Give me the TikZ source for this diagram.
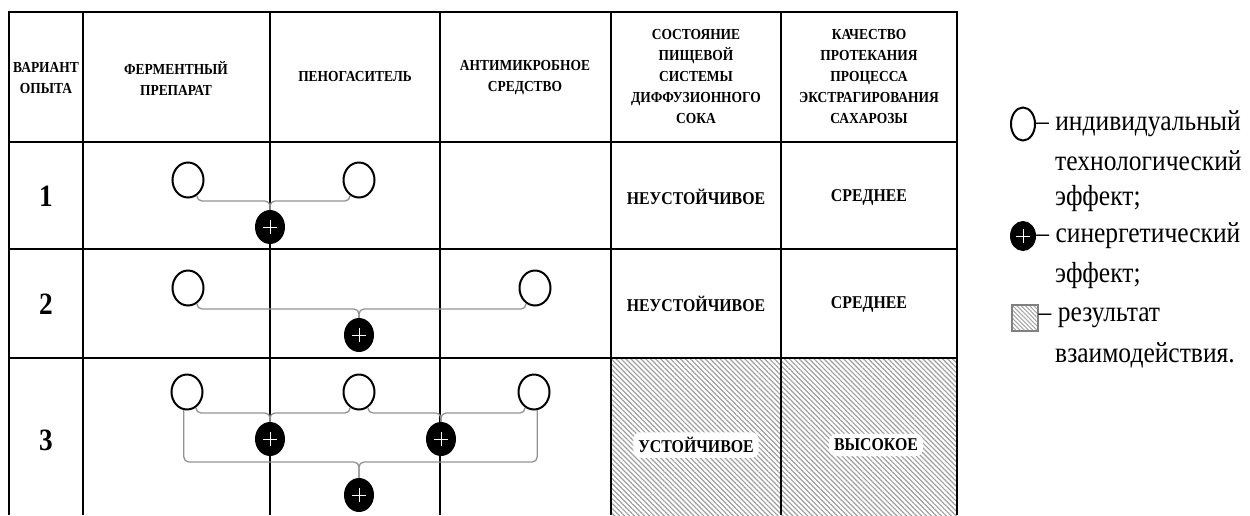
\documentclass[tikz,border=0pt]{standalone}
\usepackage{fontspec}
\setmainfont{Liberation Serif}[FakeStretch=0.88]
\usetikzlibrary{shapes.geometric,patterns.meta}
\begin{document}
\begin{tikzpicture}[x=1pt,y=-1pt,
  grid/.style={line width=1.8pt},
  hdr/.style={font=\fontsize{15.3}{21}\selectfont\bfseries, align=center, inner sep=0},
  cell/.style={font=\fontsize{18}{21}\selectfont\bfseries, inner sep=0},
  num/.style={font=\fontsize{31}{33}\selectfont\bfseries, inner sep=0},
  ind/.style={ellipse, draw, line width=2pt, minimum width=31pt, minimum height=35pt, inner sep=0},
  syn/.style={ellipse, fill=black, minimum width=30pt, minimum height=34pt, inner sep=0,
    path picture={\draw[white,line width=0.9pt]
      ([xshift=-7pt]path picture bounding box.center) -- ([xshift=7pt]path picture bounding box.center)
      ([yshift=-7pt]path picture bounding box.center) -- ([yshift=7pt]path picture bounding box.center);}},
  br/.style={draw=gray!85, line width=1.3pt, rounded corners=5pt},
  leg/.style={font=\fontsize{29}{33}\selectfont, anchor=west, inner sep=0},
  halo/.style={fill=white, rounded corners=7pt, inner sep=5pt},
]
\useasboundingbox (0,0) rectangle (1250,515);

% hatched result cells
\fill[pattern={Lines[angle=-45,distance=3.5pt,line width=1.2pt]}, pattern color=gray!75] (611,358) rectangle (957,515);

% table grid
\draw[grid] (9,515) -- (9,12) -- (957,12) -- (957,515);
\foreach \x in {83,270,440,611,781} \draw[grid] (\x,12) -- (\x,515);
\foreach \y in {142,249,358} \draw[grid] (9,\y) -- (957,\y);

% header
\node[hdr] (h1) at (46,78) {ВАРИАНТ\\ОПЫТА};
\node[hdr] (h2) at (176,78) {ФЕРМЕНТНЫЙ\\ПРЕПАРАТ};
\node[hdr] (h3) at (355,77) {ПЕНОГАСИТЕЛЬ};
\node[hdr] (h4) at (525,78) {АНТИМИКРОБНОЕ\\СРЕДСТВО};
\node[hdr] (h5) at (696,77) {СОСТОЯНИЕ\\ПИЩЕВОЙ\\СИСТЕМЫ\\ДИФФУЗИОННОГО\\СОКА};
\node[hdr] (h6) at (869,77) {КАЧЕСТВО\\ПРОТЕКАНИЯ\\ПРОЦЕССА\\ЭКСТРАГИРОВАНИЯ\\САХАРОЗЫ};

% row numbers
\node[num] (r1) at (46,196) {1};
\node[num] (r2) at (46,304) {2};
\node[num] (r3) at (46,440) {3};

% result cells
\node[cell] (s1) at (696,197) {НЕУСТОЙЧИВОЕ};
\node[cell] (q1) at (869,197) {СРЕДНЕЕ};
\node[cell] (s2) at (696,304) {НЕУСТОЙЧИВОЕ};
\node[cell] (q2) at (869,304) {СРЕДНЕЕ};
\node[cell,halo] (s3) at (696,445) {УСТОЙЧИВОЕ};
\node[cell,halo] (q3) at (876,445) {ВЫСОКОЕ};

% row 1
\node[ind] (c11) at (188,180) {};
\node[ind] (c12) at (359,180) {};
\node[syn] (p1) at (270,227) {};
\coordinate (b1) at (270,201);
\draw[br] (c11.-60) |- (p1.north |- b1) -- (p1.north);
\draw[br] (c12.-120) |- (p1.north |- b1) -- (p1.north);

% row 2
\node[ind] (c21) at (188,288) {};
\node[ind] (c22) at (535,288) {};
\node[syn] (p2) at (359,335) {};
\coordinate (b2) at (359,309);
\draw[br] (c21.-60) |- (p2.north |- b2) -- (p2.north);
\draw[br] (c22.-120) |- (p2.north |- b2) -- (p2.north);

% row 3
\node[ind] (c31) at (187,392) {};
\node[ind] (c32) at (359,392) {};
\node[ind] (c33) at (534,392) {};
\node[syn] (p31) at (270,439) {};
\node[syn] (p32) at (441,439) {};
\node[syn] (p33) at (359,495) {};
\coordinate (b3) at (270,413);
\coordinate (b4) at (359,462);
\draw[br] (c31.-60) |- (p31.north |- b3) -- (p31.north);
\draw[br] (c32.-120) |- (p31.north |- b3) -- (p31.north);
\draw[br] (c32.-60) |- (p32.north |- b3) -- (p32.north);
\draw[br] (c33.-120) |- (p32.north |- b3) -- (p32.north);
\draw[br] (c31.-100) |- (p33.north |- b4) -- (p33.north);
\draw[br] (c33.-80) |- (p33.north |- b4) -- (p33.north);

% legend
\node[ind, minimum width=24pt, minimum height=33pt] (li) at (1023,124) {};
\node[leg] (l1) at (li.east) {– индивидуальный};
\node[leg] (l2) at (1055,161) {технологический};
\node[leg] (l3) at (1055,199) {эффект;};
\node[syn, minimum width=26pt, minimum height=30pt] (ls) at (1023,236) {};
\node[leg] (l4) at (ls.east) {– синергетический};
\node[leg] (l5) at (1055,276) {эффект;};
\node[draw=gray, line width=2pt, minimum width=26pt, minimum height=26pt, inner sep=0,
  pattern={Lines[angle=-45,distance=3pt,line width=1pt]}, pattern color=gray!70] (lh) at (1025,318) {};
\node[leg] (l6) at (lh.east) {– результат};
\node[leg] (l7) at (1055,355) {взаимодействия.};
\end{tikzpicture}
\end{document}
